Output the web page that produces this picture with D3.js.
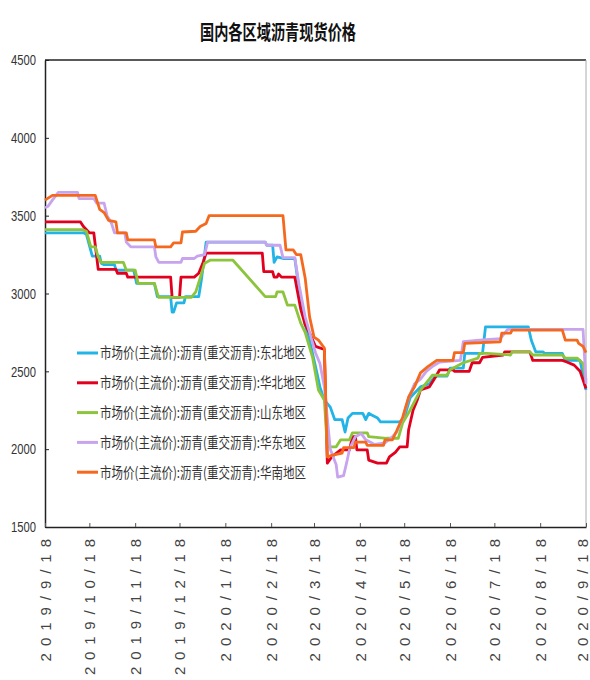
<!DOCTYPE html>
<html>
<head>
<meta charset="utf-8">
<script src="https://cdn.jsdelivr.net/npm/d3@7/dist/d3.min.js"></script>
<style>
  body { margin: 0; background: #fff; }
</style>
</head>
<body>
<div id="chart"></div>
<script>
var chartTitle = "国内各区域沥青现货价格";

var seriesNames = [
  "市场价(主流价):沥青(重交沥青):东北地区",
  "市场价(主流价):沥青(重交沥青):华北地区",
  "市场价(主流价):沥青(重交沥青):山东地区",
  "市场价(主流价):沥青(重交沥青):华东地区",
  "市场价(主流价):沥青(重交沥青):华南地区"
];

var yTicks = [1500, 2000, 2500, 3000, 3500, 4000, 4500];

var xTickLabels = ["2019/9/18", "2019/10/18", "2019/11/18", "2019/12/18", "2020/1/18", "2020/2/18",
  "2020/3/18", "2020/4/18", "2020/5/18", "2020/6/18", "2020/7/18", "2020/8/18", "2020/9/18"];

// 东北
var northeast = [["2019-09-18",3390],["2019-10-14",3390],["2019-10-16",3380],["2019-10-20",3240],["2019-10-25",3240],["2019-10-26",3195],["2019-10-28",3185],["2019-11-04",3185],["2019-11-05",3150],["2019-11-17",3150],["2019-11-19",3065],["2019-12-01",3065],["2019-12-03",2980],["2019-12-12",2980],["2019-12-13",2880],["2019-12-14",2880],["2019-12-16",2940],["2019-12-21",2940],["2019-12-22",2980],["2019-12-31",2980],["2020-01-02",3100],["2020-01-05",3330],["2020-02-14",3330],["2020-02-15",3310],["2020-02-19",3310],["2020-02-20",3200],["2020-02-22",3235],["2020-02-26",3225],["2020-03-05",3225],["2020-03-09",2950],["2020-03-12",2800],["2020-03-15",2700],["2020-03-19",2530],["2020-03-22",2400],["2020-03-25",2315],["2020-03-29",2270],["2020-04-01",2190],["2020-04-06",2190],["2020-04-08",2110],["2020-04-10",2200],["2020-04-13",2230],["2020-04-20",2230],["2020-04-22",2190],["2020-04-24",2230],["2020-04-26",2220],["2020-04-30",2200],["2020-05-02",2175],["2020-05-15",2175],["2020-05-18",2200],["2020-05-22",2330],["2020-05-29",2400],["2020-06-04",2420],["2020-06-08",2470],["2020-06-16",2470],["2020-06-18",2520],["2020-06-27",2520],["2020-06-28",2615],["2020-07-10",2615],["2020-07-12",2785],["2020-08-10",2785],["2020-08-12",2700],["2020-08-15",2625],["2020-08-20",2625],["2020-08-21",2615],["2020-09-02",2615],["2020-09-04",2570],["2020-09-14",2570],["2020-09-18",2380]];

// 华北
var northChina = [["2019-09-18",3460],["2019-10-12",3460],["2019-10-14",3430],["2019-10-18",3390],["2019-10-21",3390],["2019-10-24",3155],["2019-11-05",3155],["2019-11-06",3130],["2019-11-12",3130],["2019-11-13",3105],["2019-12-12",3105],["2019-12-13",2975],["2019-12-18",2975],["2019-12-19",3105],["2019-12-28",3105],["2019-12-31",3130],["2020-01-03",3200],["2020-01-05",3260],["2020-02-12",3260],["2020-02-13",3140],["2020-02-19",3140],["2020-02-20",3105],["2020-02-22",3105],["2020-02-23",3125],["2020-02-25",3105],["2020-03-05",3105],["2020-03-09",2900],["2020-03-12",2800],["2020-03-15",2745],["2020-03-19",2660],["2020-03-25",2640],["2020-03-27",1910],["2020-03-30",1950],["2020-04-05",1995],["2020-04-11",1995],["2020-04-13",2080],["2020-04-15",2080],["2020-04-16",1995],["2020-04-23",1995],["2020-04-24",1930],["2020-04-30",1910],["2020-05-06",1910],["2020-05-08",1950],["2020-05-12",1980],["2020-05-15",2015],["2020-05-20",2015],["2020-05-21",2125],["2020-05-24",2250],["2020-05-27",2320],["2020-05-29",2380],["2020-06-04",2400],["2020-06-08",2460],["2020-06-11",2510],["2020-06-20",2510],["2020-06-21",2500],["2020-07-01",2500],["2020-07-03",2555],["2020-07-08",2555],["2020-07-10",2590],["2020-07-24",2605],["2020-07-25",2625],["2020-08-11",2625],["2020-08-13",2570],["2020-09-02",2570],["2020-09-05",2560],["2020-09-10",2540],["2020-09-14",2500],["2020-09-18",2390]];

// 山东
var shandong = [["2019-09-18",3410],["2019-10-13",3410],["2019-10-16",3400],["2019-10-19",3300],["2019-10-22",3300],["2019-10-24",3235],["2019-10-26",3200],["2019-11-10",3200],["2019-11-12",3150],["2019-11-18",3150],["2019-11-20",3065],["2019-12-01",3065],["2019-12-03",3000],["2019-12-04",2975],["2019-12-26",2975],["2019-12-29",3010],["2020-01-01",3100],["2020-01-04",3195],["2020-01-08",3215],["2020-01-23",3215],["2020-02-14",2980],["2020-02-21",2980],["2020-02-22",3010],["2020-02-26",3010],["2020-02-29",2925],["2020-03-05",2925],["2020-03-09",2810],["2020-03-12",2750],["2020-03-17",2590],["2020-03-21",2380],["2020-03-25",2315],["2020-03-27",2015],["2020-04-02",2015],["2020-04-05",2060],["2020-04-11",2060],["2020-04-13",2105],["2020-04-23",2105],["2020-04-24",2080],["2020-05-06",2070],["2020-05-14",2070],["2020-05-17",2170],["2020-05-22",2250],["2020-05-29",2380],["2020-06-04",2450],["2020-06-06",2475],["2020-06-16",2475],["2020-06-18",2510],["2020-06-27",2555],["2020-07-07",2585],["2020-07-08",2615],["2020-07-13",2615],["2020-07-29",2605],["2020-07-30",2625],["2020-08-11",2625],["2020-08-13",2605],["2020-09-02",2605],["2020-09-04",2585],["2020-09-12",2585],["2020-09-16",2550],["2020-09-18",2445]];

// 华东
var eastChina = [["2019-09-18",3550],["2019-09-20",3560],["2019-09-23",3600],["2019-09-27",3650],["2019-10-10",3650],["2019-10-11",3610],["2019-10-21",3610],["2019-10-23",3580],["2019-10-28",3580],["2019-10-30",3500],["2019-11-02",3450],["2019-11-04",3390],["2019-11-11",3390],["2019-11-12",3330],["2019-11-15",3300],["2019-12-01",3300],["2019-12-02",3235],["2019-12-04",3200],["2019-12-19",3200],["2019-12-20",3225],["2019-12-28",3225],["2019-12-30",3240],["2020-01-04",3250],["2020-01-06",3330],["2020-02-14",3330],["2020-02-15",3310],["2020-02-24",3310],["2020-02-26",3230],["2020-03-05",3230],["2020-03-08",3050],["2020-03-12",2850],["2020-03-15",2750],["2020-03-19",2620],["2020-03-22",2550],["2020-03-25",2400],["2020-03-27",2200],["2020-03-29",2000],["2020-04-02",1900],["2020-04-03",1820],["2020-04-07",1830],["2020-04-09",1910],["2020-04-11",2000],["2020-04-15",2080],["2020-04-19",2100],["2020-04-22",2060],["2020-04-28",2030],["2020-05-05",2040],["2020-05-10",2080],["2020-05-13",2110],["2020-05-17",2200],["2020-05-21",2330],["2020-05-25",2420],["2020-05-29",2450],["2020-06-02",2500],["2020-06-06",2530],["2020-06-11",2560],["2020-06-25",2570],["2020-06-27",2690],["2020-07-08",2700],["2020-07-22",2710],["2020-07-27",2770],["2020-09-16",2770],["2020-09-18",2420]];

// 华南
var southChina = [["2019-09-18",3600],["2019-09-23",3630],["2019-10-22",3630],["2019-10-25",3540],["2019-10-28",3520],["2019-10-31",3470],["2019-11-05",3460],["2019-11-06",3390],["2019-11-12",3390],["2019-11-13",3345],["2019-12-01",3345],["2019-12-02",3300],["2019-12-12",3300],["2019-12-14",3325],["2019-12-19",3325],["2019-12-20",3395],["2019-12-29",3400],["2020-01-01",3430],["2020-01-05",3450],["2020-01-07",3500],["2020-02-26",3500],["2020-02-28",3280],["2020-03-04",3280],["2020-03-06",3250],["2020-03-09",3250],["2020-03-12",3100],["2020-03-15",2850],["2020-03-18",2720],["2020-03-21",2700],["2020-03-25",2650],["2020-03-27",1950],["2020-03-30",1960],["2020-04-06",1975],["2020-04-07",2010],["2020-04-14",2010],["2020-04-15",2045],["2020-04-22",2045],["2020-04-23",2025],["2020-05-04",2025],["2020-05-05",2060],["2020-05-10",2060],["2020-05-13",2120],["2020-05-17",2205],["2020-05-21",2335],["2020-05-25",2400],["2020-05-29",2490],["2020-06-03",2530],["2020-06-09",2570],["2020-06-20",2570],["2020-06-21",2620],["2020-06-27",2620],["2020-06-28",2680],["2020-07-22",2690],["2020-07-23",2745],["2020-07-29",2745],["2020-07-30",2765],["2020-09-02",2765],["2020-09-04",2700],["2020-09-12",2700],["2020-09-13",2680],["2020-09-16",2660],["2020-09-18",2620]];

var seriesData = [northeast, northChina, shandong, eastChina, southChina];
var seriesColors = ["#22b4e6", "#e1001e", "#8cc43c", "#c8a4ee", "#f4691e"];

var _width = 590,
  _height = 680,
  _margins = { top: 60, right: 4, bottom: 153, left: 45 };

var parseDay = d3.timeParse("%Y-%m-%d"),
  parseTick = d3.timeParse("%Y/%m/%d");

var svg = d3.select("#chart").append("svg")
  .attr("width", _width)
  .attr("height", _height)
  .style("font-family", "'DejaVu Sans', sans-serif");

var x = d3.scaleTime()
  .domain([parseTick(xTickLabels[0]), parseTick(xTickLabels[xTickLabels.length - 1])])
  .range([_margins.left, _width - _margins.right]);

var y = d3.scaleLinear()
  .domain([yTicks[0], yTicks[yTicks.length - 1]])
  .range([_height - _margins.bottom, _margins.top]);

// title
svg.append("text")
  .attr("x", 278)
  .attr("y", 40)
  .attr("text-anchor", "middle")
  .attr("textLength", 156)
  .attr("lengthAdjust", "spacingAndGlyphs")
  .style("font-family", "'Noto Sans CJK SC', sans-serif")
  .style("font-size", "20px")
  .style("font-weight", "bold")
  .style("fill", "#111")
  .text(chartTitle);

// frame: top and right
svg.append("line")
  .attr("x1", x.range()[0]).attr("x2", x.range()[1])
  .attr("y1", y.range()[1]).attr("y2", y.range()[1])
  .attr("stroke", "#222").attr("stroke-width", 1.5);
svg.append("line")
  .attr("x1", x.range()[1]).attr("x2", x.range()[1])
  .attr("y1", y.range()[1]).attr("y2", y.range()[0])
  .attr("stroke", "#aaa").attr("stroke-width", 1);

// y axis
var yAxis = d3.axisLeft(y)
  .tickValues(yTicks)
  .tickSizeInner(-4)
  .tickSizeOuter(0)
  .tickPadding(9)
  .tickFormat(d3.format("d"));

var yG = svg.append("g")
  .attr("transform", "translate(" + _margins.left + ",0)")
  .call(yAxis);
yG.select(".domain").attr("stroke", "#222").attr("stroke-width", 1.5);
yG.selectAll(".tick line").attr("stroke", "#222");
yG.selectAll("text")
  .attr("textLength", 25)
  .attr("lengthAdjust", "spacingAndGlyphs")
  .style("font-size", "15px")
  .style("fill", "#333");

// x axis
var xAxis = d3.axisBottom(x)
  .tickValues(xTickLabels.map(parseTick))
  .tickSizeInner(-4)
  .tickSizeOuter(0)
  .tickFormat(function(d, i) { return xTickLabels[i]; });

var xG = svg.append("g")
  .attr("transform", "translate(0," + (_height - _margins.bottom) + ")")
  .call(xAxis);
xG.select(".domain").attr("stroke", "#222").attr("stroke-width", 1.5);
xG.selectAll(".tick line").attr("stroke", "#555");
xG.selectAll("text")
  .attr("transform", "rotate(-90)")
  .attr("x", -12)
  // last label sits on the right edge, nudge it inside
  .attr("y", function(d, i) { return i === xTickLabels.length - 1 ? -4 : 0; })
  .attr("dy", "0.35em")
  .attr("textLength", function(d, i) { return xTickLabels[i].length * 13.6; })
  .attr("lengthAdjust", "spacing")
  .style("text-anchor", "end")
  .style("font-family", "'Liberation Sans', sans-serif")
  .style("font-size", "15px")
  .style("fill", "#444");

// lines
var line = d3.line()
  .x(function(d) { return x(parseDay(d[0])); })
  .y(function(d) { return y(d[1]); });

svg.append("g")
  .attr("class", "body")
  .selectAll("path")
  .data(seriesData)
  .enter().append("path")
  .attr("d", line)
  .attr("fill", "none")
  .attr("stroke", function(d, i) { return seriesColors[i]; })
  .attr("stroke-width", 2.8)
  .attr("stroke-linejoin", "round");

// legend
var legend = svg.append("g")
  .attr("class", "legend")
  .attr("transform", "translate(77,353)");

var rows = legend.selectAll("g")
  .data(seriesNames)
  .enter().append("g")
  .attr("transform", function(d, i) { return "translate(0," + (i * 29.8) + ")"; });

rows.append("line")
  .attr("x1", 0).attr("x2", 21)
  .attr("y1", 0).attr("y2", 0)
  .attr("stroke", function(d, i) { return seriesColors[i]; })
  .attr("stroke-width", 3);

rows.append("text")
  .attr("x", 23)
  .attr("y", 0)
  .attr("dy", "0.36em")
  .attr("textLength", 206)
  .attr("lengthAdjust", "spacingAndGlyphs")
  .style("font-family", "'Noto Sans CJK SC', sans-serif")
  .style("font-size", "15px")
  .style("fill", "#333")
  .text(function(d) { return d; });
</script>
</body>
</html>
